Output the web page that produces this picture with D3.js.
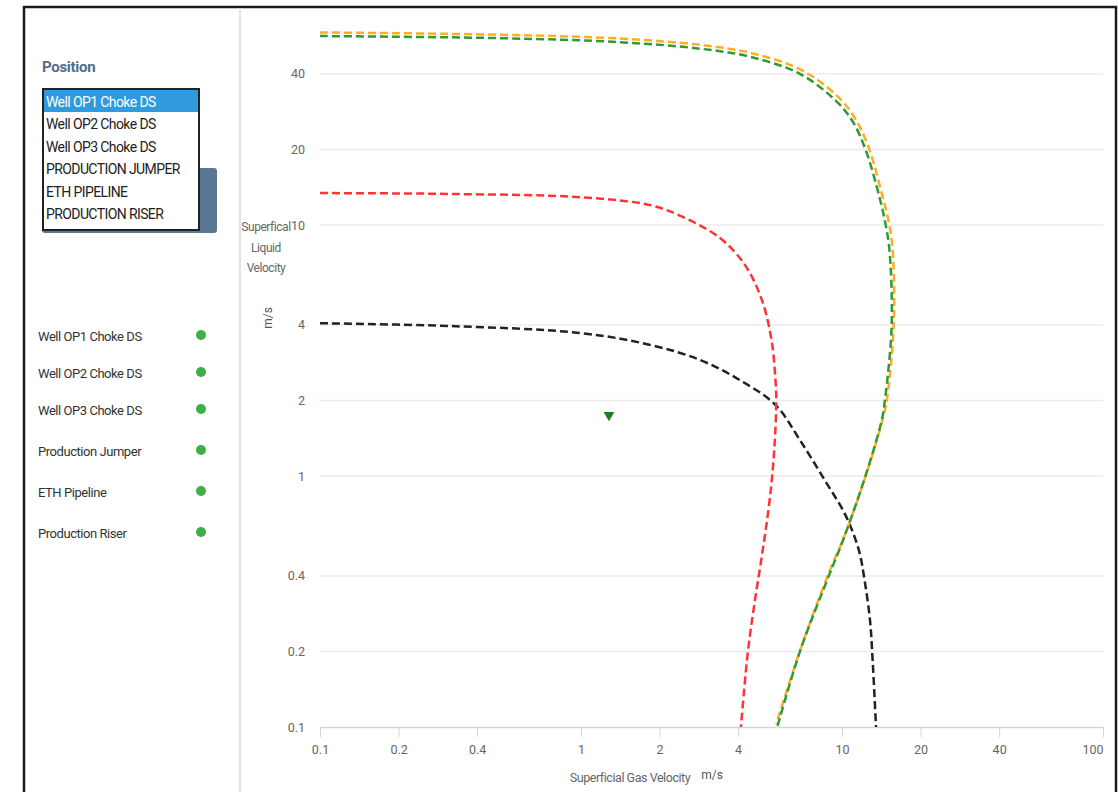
<!DOCTYPE html>
<html>
<head>
<meta charset="utf-8">
<script src="https://cdn.jsdelivr.net/npm/d3@7"></script>
<style>
  body { margin: 0; background: #fff; }
  text { font-family: 'Roboto', sans-serif; }
</style>
</head>
<body>
<div id="svg-container"></div>
<script>
// flow-regime boundaries, gas velocity (m/s) vs liquid velocity (m/s)
const positions = [
  'Well OP1 Choke DS',
  'Well OP2 Choke DS',
  'Well OP3 Choke DS',
  'PRODUCTION JUMPER',
  'ETH PIPELINE',
  'PRODUCTION RISER',
]
const legendNames = [
  'Well OP1 Choke DS',
  'Well OP2 Choke DS',
  'Well OP3 Choke DS',
  'Production Jumper',
  'ETH Pipeline',
  'Production Riser',
]

const xTicks = [0.1, 0.2, 0.4, 1, 2, 4, 10, 20, 40, 100]
const yTicks = [0.1, 0.2, 0.4, 1, 2, 4, 10, 20, 40]

const orangeGas = [0.1, 0.49, 1.41, 2.9, 4.5, 7.0, 9.6, 11.1, 12.6, 14.3, 15.1, 15.6, 15.8, 14.9, 14.4, 12.4, 10.2, 8.9, 7.0, 5.6]
const orangeLiq = [58.5, 57.3, 55.3, 52.1, 48.4, 41.4, 32.6, 27.1, 20.6, 13.0, 10.3, 8.2, 4.15, 2.05, 1.72, 1.02, 0.575, 0.41, 0.21, 0.103]

const greenGas = [0.1, 0.49, 1.41, 2.86, 4.44, 6.9, 9.4, 10.9, 12.3, 14.0, 14.7, 15.2, 15.5, 14.6, 14.2, 12.3, 10.1, 8.9, 6.9, 5.65]
const greenLiq = [56.6, 55.5, 53.5, 50.4, 46.8, 40.0, 31.5, 26.2, 20.0, 12.6, 10.0, 7.95, 4.0, 2.0, 1.67, 1.0, 0.556, 0.4, 0.2, 0.1]

const redGas = [0.1, 0.31, 1.0, 1.84, 2.39, 3.41, 4.25, 4.93, 5.37, 5.56, 5.6, 5.5, 5.28, 4.97, 4.64, 4.36, 4.1]
const redLiq = [13.4, 13.3, 12.9, 12.0, 10.9, 8.87, 6.92, 5.03, 3.48, 2.41, 2.0, 1.27, 0.8, 0.507, 0.32, 0.2, 0.1]

const blackGas = [0.1, 0.31, 1.0, 1.84, 2.86, 4.06, 5.56, 6.9, 8.6, 10.3, 11.6, 12.2, 12.8, 13.1, 13.5]
const blackLiq = [4.06, 3.96, 3.71, 3.33, 2.9, 2.41, 1.92, 1.39, 0.96, 0.7, 0.507, 0.385, 0.267, 0.185, 0.1]

const markerGas = [1.28]
const markerLiq = [1.75]

;(function () {
  const svgWidth = 1119
  const svgHeight = 792
  const narrow = '-0.45px'

  const svg = d3
    .select('#svg-container')
    .append('svg')
    .attr('width', svgWidth)
    .attr('height', svgHeight)

  // frame + panel divider
  svg.append('rect')
    .attr('x', 24).attr('y', 7)
    .attr('width', 1092).attr('height', 800)
    .attr('fill', '#fff')
    .attr('stroke', '#1a1a1a')
    .attr('stroke-width', 2.5)
  svg.append('line')
    .attr('x1', 240).attr('x2', 240)
    .attr('y1', 8).attr('y2', svgHeight)
    .attr('stroke', '#e3e3e3')
    .attr('stroke-width', 2)

  // ---------- left panel ----------
  svg.append('text')
    .attr('x', 42).attr('y', 72)
    .attr('fill', '#4d6e8e')
    .attr('font-size', 15)
    .attr('font-weight', 'bold')
    .style('letter-spacing', '-0.3px')
    .text('Position')

  svg.append('rect')
    .attr('x', 42).attr('y', 168)
    .attr('width', 175).attr('height', 65)
    .attr('rx', 3)
    .attr('fill', '#5a7896')

  const list = svg.append('g')
  list.append('rect')
    .attr('x', 43).attr('y', 89)
    .attr('width', 156).attr('height', 141)
    .attr('fill', '#fff')
    .attr('stroke', '#222')
    .attr('stroke-width', 2)
  list.append('rect')
    .attr('x', 44).attr('y', 90)
    .attr('width', 154).attr('height', 22)
    .attr('fill', '#2f9ade')
  list.selectAll('text.opt')
    .data(positions)
    .join('text')
    .attr('class', 'opt')
    .attr('x', 46)
    .attr('y', (d, i) => 107 + i * 22.4)
    .attr('font-size', 14)
    .style('letter-spacing', '-0.6px')
    .attr('fill', (d, i) => (i === 0 ? '#fff' : '#222'))
    .text(d => d)

  const legend = svg.append('g')
  const legendY = [336, 373, 410, 451, 492, 533]
  legend.selectAll('text')
    .data(legendNames)
    .join('text')
    .attr('x', 38)
    .attr('y', (d, i) => legendY[i] + 5)
    .attr('font-size', 13)
    .style('letter-spacing', narrow)
    .attr('fill', '#333')
    .text(d => d)
  legend.selectAll('circle')
    .data(legendNames)
    .join('circle')
    .attr('cx', 201)
    .attr('cy', (d, i) => legendY[i] - 1)
    .attr('r', 5)
    .attr('fill', '#3daf45')

  // ---------- chart ----------
  const x = d3.scaleLog().domain([0.1, 100]).range([320, 1103])
  const y = d3.scaleLog().domain([0.1, 1]).range([727, 476])

  const grid = svg.append('g')
  grid.selectAll('line')
    .data(yTicks.filter(d => d > 0.1))
    .join('line')
    .attr('x1', 320).attr('x2', 1103)
    .attr('y1', d => y(d)).attr('y2', d => y(d))
    .attr('stroke', '#ebebeb')
    .attr('stroke-width', 1.5)

  const yAxis = svg.append('g')
    .attr('transform', 'translate(320,0)')
    .call(d3.axisLeft(y).tickValues(yTicks).tickFormat(d3.format('')).tickSize(0).tickPadding(15))
  yAxis.select('.domain').remove()
  yAxis.selectAll('text')
    .attr('font-size', 12.5)
    .attr('fill', '#666')
    .style('font-family', 'Roboto, sans-serif')

  const xAxis = svg.append('g')
    .attr('transform', `translate(0,${y(0.1)})`)
    .call(d3.axisBottom(x).tickValues(xTicks).tickFormat(d3.format('')).tickSize(10).tickSizeOuter(0).tickPadding(8))
  xAxis.select('.domain').attr('stroke', '#ccd6eb').attr('stroke-width', 1.5)
  xAxis.selectAll('.tick line').attr('stroke', '#ccd6eb')
  xAxis.selectAll('text')
    .attr('font-size', 12.5)
    .attr('fill', '#666')
    .style('font-family', 'Roboto, sans-serif')
  xAxis.selectAll('.tick text')
    .filter(d => d === 100)
    .attr('text-anchor', 'end')

  // axis titles
  svg.append('g')
    .selectAll('text')
    .data(['Superfical', 'Liquid', 'Velocity'])
    .join('text')
    .attr('x', 266)
    .attr('y', (d, i) => 231 + i * 20.5)
    .attr('text-anchor', 'middle')
    .attr('font-size', 12)
    .style('letter-spacing', narrow)
    .attr('fill', '#666')
    .text(d => d)
  svg.append('text')
    .attr('transform', 'translate(272,318) rotate(-90)')
    .attr('text-anchor', 'middle')
    .attr('font-size', 12)
    .attr('fill', '#555')
    .text('m/s')
  svg.append('text')
    .attr('x', 630).attr('y', 782)
    .attr('text-anchor', 'middle')
    .attr('font-size', 12.5)
    .style('letter-spacing', narrow)
    .attr('fill', '#666')
    .text('Superficial Gas Velocity')
  svg.append('text')
    .attr('x', 712).attr('y', 779)
    .attr('text-anchor', 'middle')
    .attr('font-size', 12)
    .attr('fill', '#555')
    .text('m/s')

  // curves
  const line = d3.line()
    .x(d => x(d[0]))
    .y(d => y(d[1]))
    .curve(d3.curveCatmullRom.alpha(0.5))

  const series = [
    { gas: blackGas, liq: blackLiq, color: '#222' },
    { gas: redGas, liq: redLiq, color: '#ff3333' },
    { gas: orangeGas, liq: orangeLiq, color: '#ffad1f' },
    { gas: greenGas, liq: greenLiq, color: '#2f9a33' },
  ]

  svg.append('g')
    .selectAll('path')
    .data(series)
    .join('path')
    .attr('d', s => line(s.gas.map((g, i) => [g, s.liq[i]])))
    .attr('fill', 'none')
    .attr('stroke', s => s.color)
    .attr('stroke-width', 2.5)
    .attr('stroke-dasharray', '8,4')

  svg.append('g')
    .selectAll('path')
    .data(markerGas)
    .join('path')
    .attr('d', d3.symbol(d3.symbolTriangle, 50))
    .attr('transform', (d, i) => `translate(${x(d)},${y(markerLiq[i])}) rotate(180)`)
    .attr('fill', '#1e7d1e')
})()
</script>
</body>
</html>
